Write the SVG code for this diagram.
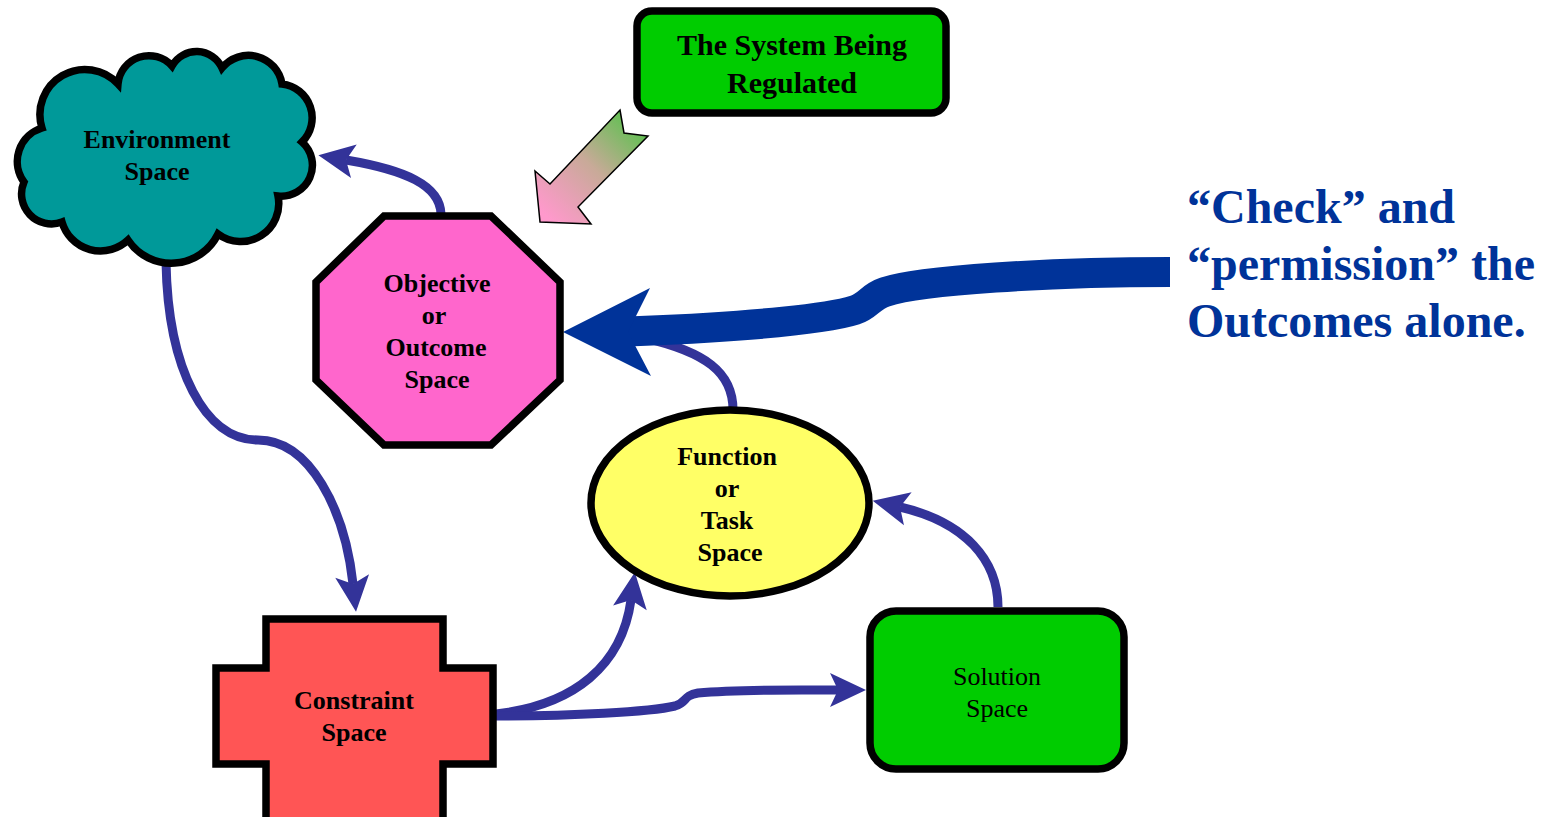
<svg xmlns="http://www.w3.org/2000/svg" width="1541" height="817" viewBox="0 0 1541 817">
<style>
.node{stroke:#000;stroke-width:7.5;stroke-linejoin:miter}
.lbl{font-family:"Liberation Serif","Times New Roman",serif;font-size:26px;font-weight:bold;fill:#000;text-anchor:middle}
.lbln{font-family:"Liberation Serif","Times New Roman",serif;font-size:26px;font-weight:normal;fill:#000;text-anchor:middle}
.conn{fill:none;stroke:#333399;stroke-width:9}
.big{fill:none;stroke:#003399;stroke-width:30}
.note{font-family:"Liberation Serif","Times New Roman",serif;font-size:48px;font-weight:bold;fill:#003399}
</style>
<defs>
<marker id="ah" markerUnits="userSpaceOnUse" viewBox="-10 -20 40 40" markerWidth="40" markerHeight="40" refX="0" refY="0" orient="auto">
<path d="M28,0 L-8,-17 L0,0 L-8,17 Z" fill="#333399"/>
</marker>
<linearGradient id="grad" gradientUnits="userSpaceOnUse" x1="640" y1="118" x2="545" y2="215">
<stop offset="0" stop-color="#55c24a"/>
<stop offset="0.5" stop-color="#c8aa98"/>
<stop offset="1" stop-color="#ff99cc"/>
</linearGradient>
</defs>

<g id="connectors">
<path class="conn" d="M441,214 C440,185 405,170 346,160" marker-end="url(#ah)"/>
<path class="conn" d="M166,262 C168,370 205,440 258,440 C310,440 345,510 353,584" marker-end="url(#ah)"/>
<path class="conn" d="M733,410 C733,372 705,352 645,338"/>
<path class="conn" d="M496,714 C575,705 622,665 631,600" marker-end="url(#ah)"/>
<path class="conn" d="M496,716 C570,716 650,712 675,706 C688,702 682,696 698,693 C740,689 790,690 838,690" marker-end="url(#ah)"/>
<path class="conn" d="M998,607 C998,560 965,522 900,507" marker-end="url(#ah)"/>
<path class="big" d="M1170,272 C1050,272 920,280 885,292 C870,297 868,306 855,310 C830,318 760,326 640,331 L612,332"/>
<polygon points="563,332 650,288 628,332 651,376" fill="#003399"/>
</g>

<g id="environment">
<path class="node" fill="#009999" d="M24,182 A35,35 0 0,1 42,128 A45,45 0 0,1 118,84 A31,31 0 0,1 172,66 A28,28 0 0,1 222,68 A34,34 0 0,1 282,84 A34,34 0 0,1 302,142 A31,31 0 0,1 278,196 A38,38 0 0,1 218,234 A52,52 0 0,1 128,240 A40,40 0 0,1 62,222 A30,30 0 0,1 24,182 Z"/>
<text class="lbl" x="157" y="148">Environment</text>
<text class="lbl" x="157" y="180">Space</text>
</g>

<g id="system">
<rect class="node" fill="#00cc00" x="637" y="11" width="309" height="102" rx="15"/>
<text class="lbl" style="font-size:30px" x="792" y="55">The System Being</text>
<text class="lbl" style="font-size:30px" x="792" y="93">Regulated</text>
</g>

<g id="system-arrow">
<polygon points="620,110 624,133 648,136 578,207 591,224 540,222 535,171 550,184" fill="url(#grad)" stroke="#000" stroke-width="1.5"/>
</g>

<g id="objective">
<polygon class="node" fill="#ff66cc" points="384,216 491,216 560,282 560,380 491,445 384,445 316,380 316,282"/>
<text class="lbl" x="437" y="292">Objective</text>
<text class="lbl" x="434" y="324">or</text>
<text class="lbl" x="436" y="356">Outcome</text>
<text class="lbl" x="437" y="388">Space</text>
</g>

<g id="function">
<ellipse class="node" fill="#ffff66" cx="730" cy="503" rx="139" ry="93"/>
<text class="lbl" x="727" y="465">Function</text>
<text class="lbl" x="727" y="497">or</text>
<text class="lbl" x="727" y="529">Task</text>
<text class="lbl" x="730" y="561">Space</text>
</g>

<g id="solution">
<rect class="node" fill="#00cc00" x="870" y="611" width="254" height="158" rx="26"/>
<text class="lbln" x="997" y="685">Solution</text>
<text class="lbln" x="997" y="717">Space</text>
</g>

<g id="constraint">
<polygon class="node" fill="#ff5555" points="266,619 443,619 443,668 493,668 493,764 443,764 443,822 266,822 266,764 216,764 216,668 266,668"/>
<text class="lbl" x="354" y="709">Constraint</text>
<text class="lbl" x="354" y="741">Space</text>
</g>

<g id="note">
<text class="note" x="1187" y="223">“Check” and</text>
<text class="note" x="1187" y="280">“permission” the</text>
<text class="note" x="1187" y="337">Outcomes alone.</text>
</g>
</svg>
